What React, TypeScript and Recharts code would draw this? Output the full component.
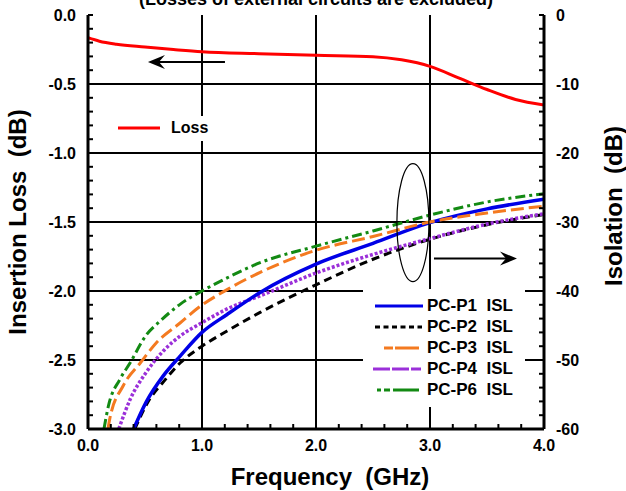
import React from 'react';
import { LineChart, Line, XAxis, YAxis, CartesianGrid, ReferenceDot, Label } from 'recharts';

const FONT = '"Liberation Sans", Arial, sans-serif';

// insertion loss, left axis (dB)
const lossFreq = [0, 0.1, 0.25, 0.5, 0.75, 1.0, 1.5, 2.0, 2.5, 2.75, 3.0, 3.25, 3.5, 3.75, 4.0];
const lossVal = [-0.165, -0.19, -0.212, -0.232, -0.25, -0.266, -0.28, -0.292, -0.302, -0.325, -0.372, -0.455, -0.54, -0.612, -0.652];

// isolation, right axis (dB)
const p1Freq = [0.4, 0.51, 0.66, 0.81, 1.0, 1.22, 1.51, 2.0, 2.5, 3.0, 3.5, 4.0];
const p1Val = [-60, -56.1, -52.3, -49.4, -46.0, -43.4, -40.2, -36.1, -33.1, -30.1, -28.1, -26.7];
const p2Freq = [0.41, 0.54, 0.66, 0.81, 1.0, 1.22, 1.51, 2.0, 2.5, 3.0, 3.5, 4.0];
const p2Val = [-60, -55.7, -53.2, -50.4, -48.0, -45.8, -43.1, -39.1, -35.4, -32.5, -30.4, -28.9];
const p3Freq = [0.175, 0.19, 0.31, 0.46, 0.6, 0.81, 0.97, 1.22, 1.51, 2.0, 2.5, 3.0, 3.5, 4.0];
const p3Val = [-60, -58.6, -53.7, -50.4, -47.5, -44.6, -42.4, -39.8, -37.3, -34.1, -32.1, -30.0, -28.7, -27.7];
const p4Freq = [0.27, 0.37, 0.51, 0.66, 0.81, 1.0, 1.22, 1.51, 2.0, 2.5, 3.0, 3.5, 4.0];
const p4Val = [-60, -55.7, -51.8, -48.7, -46.5, -44.6, -42.6, -40.7, -37.4, -34.7, -32.4, -30.3, -28.8];
const p6Freq = [0.14, 0.18, 0.28, 0.37, 0.51, 0.63, 0.81, 1.0, 1.22, 1.51, 2.0, 2.5, 3.0, 3.5, 4.0];
const p6Val = [-60, -56.6, -52.8, -50.4, -46.4, -44.4, -41.9, -40.0, -38.1, -35.9, -33.5, -31.3, -29.0, -27.1, -25.9];

const xMajor = [0, 1, 2, 3, 4];
const xTickLabels = ['0.0', '1.0', '2.0', '3.0', '4.0'];
const leftMajor = [0, -0.5, -1, -1.5, -2, -2.5, -3];
const leftTickLabels = ['0.0', '-0.5', '-1.0', '-1.5', '-2.0', '-2.5', '-3.0'];
const rightMajor = [0, -10, -20, -30, -40, -50, -60];
const rightTickLabels = ['0', '-10', '-20', '-30', '-40', '-50', '-60'];

// minor ticks
const xTicks = Array.from({ length: 21 }, (_, i) => +(i * 0.2).toFixed(1));
const leftTicks = Array.from({ length: 31 }, (_, i) => +(-i * 0.1).toFixed(1));
const rightTicks = Array.from({ length: 31 }, (_, i) => -2 * i);

const pts = (f: number[], v: number[]) => f.map((x, i) => ({ f: x, v: v[i] }));

const isoSeries = [
  { name: 'PC-P1  ISL', data: pts(p1Freq, p1Val), color: '#0000e6', width: 3.5, dash: undefined, legendDash: undefined, lx: [12, 60] },
  { name: 'PC-P2  ISL', data: pts(p2Freq, p2Val), color: '#000000', width: 3, dash: '8 5', legendDash: '5 3.5', lx: [12, 59] },
  { name: 'PC-P3  ISL', data: pts(p3Freq, p3Val), color: '#f47a20', width: 3, dash: '13 5', legendDash: '9 2 24', lx: [21, 56] },
  { name: 'PC-P4  ISL', data: pts(p4Freq, p4Val), color: '#9b30d9', width: 3.5, dash: '3 2', legendDash: '17 2', lx: [10, 58] },
  { name: 'PC-P6  ISL', data: pts(p6Freq, p6Val), color: '#138a13', width: 3, dash: '10 4 3 4', legendDash: '4 3 6 3 26', lx: [14, 56] },
];
const drawOrder = [1, 3, 0, 2, 4];

const major = (arr: number[], v: number) => arr.findIndex((m) => Math.abs(m - v) < 1e-6);

const tickText = { fontFamily: FONT, fontSize: 16, fontWeight: 'bold', fill: '#000' } as const;

const BottomTick = (p: any) => {
  const i = major(xMajor, p.payload.value);
  return (
    <g>
      <line x1={p.x} x2={p.x} y1={p.y} y2={p.y - 5} stroke="#000" strokeWidth={2} />
      {i >= 0 && <text x={p.x} y={p.y + 22} textAnchor="middle" {...tickText}>{xTickLabels[i]}</text>}
    </g>
  );
};
const TopTick = (p: any) => <line x1={p.x} x2={p.x} y1={p.y} y2={p.y + 5} stroke="#000" strokeWidth={2} />;
const LeftTick = (p: any) => {
  const i = major(leftMajor, p.payload.value);
  return (
    <g>
      <line x1={p.x} x2={p.x + 5} y1={p.y} y2={p.y} stroke="#000" strokeWidth={2} />
      {i >= 0 && <text x={p.x - 12} y={p.y + 6} textAnchor="end" {...tickText}>{leftTickLabels[i]}</text>}
    </g>
  );
};
const RightTick = (p: any) => {
  const i = major(rightMajor, p.payload.value);
  return (
    <g>
      <line x1={p.x} x2={p.x - 5} y1={p.y} y2={p.y} stroke="#000" strokeWidth={2} />
      {i >= 0 && <text x={p.x + 12} y={p.y + 6} textAnchor="start" {...tickText}>{rightTickLabels[i]}</text>}
    </g>
  );
};

const arrowLeft = (p: any) => (
  <g>
    <line x1={p.cx + 8} x2={p.cx + 77} y1={p.cy} y2={p.cy} stroke="#000" strokeWidth={2} />
    <polygon points={`${p.cx},${p.cy} ${p.cx + 17},${p.cy - 7} ${p.cx + 11},${p.cy} ${p.cx + 17},${p.cy + 7}`} fill="#000" />
  </g>
);
const arrowRight = (p: any) => (
  <g>
    <line x1={p.cx - 83} x2={p.cx - 8} y1={p.cy} y2={p.cy} stroke="#000" strokeWidth={2} />
    <polygon points={`${p.cx},${p.cy} ${p.cx - 17},${p.cy - 7} ${p.cx - 11},${p.cy} ${p.cx - 17},${p.cy + 7}`} fill="#000" />
  </g>
);
const ellipse = (p: any) => <ellipse cx={p.cx} cy={p.cy} rx={16} ry={59} fill="none" stroke="#000" strokeWidth={1.2} />;

const titleStyle = { fontFamily: FONT, fontSize: 24, fontWeight: 'bold', fill: '#000' } as const;

const App = () => {
  return (
    <div style={{ position: 'absolute', left: 0, top: 0, width: 626, height: 491, background: '#fff', fontFamily: FONT }}>
      <div style={{ position: 'absolute', left: 0, top: -10, width: 632, textAlign: 'center', fontSize: 18, fontWeight: 'bold', lineHeight: '18px' }}>
        (Losses of external circuits are excluded)
      </div>
      <LineChart width={626} height={491} margin={{ top: 15, right: 0, bottom: 0, left: 0 }}>
        <CartesianGrid xAxisId="bottom" yAxisId="left" stroke="#000" strokeWidth={2}
          horizontalValues={[-0.5, -1, -1.5, -2, -2.5]} verticalValues={[1, 2, 3]} />
        <XAxis xAxisId="bottom" dataKey="f" type="number" domain={[0, 4]} ticks={xTicks} height={62}
          allowDataOverflow interval={0} tickSize={0} tickMargin={0} tick={BottomTick}
          axisLine={{ stroke: '#000', strokeWidth: 3 }}>
          <Label value={'Frequency\u00a0 (GHz)'} position="insideBottom" offset={6} dx={14} style={titleStyle} />
        </XAxis>
        <XAxis xAxisId="top" orientation="top" type="number" domain={[0, 4]} ticks={xTicks} height={0}
          allowDataOverflow interval={0} tickSize={0} tickMargin={0} tick={TopTick}
          axisLine={{ stroke: '#000', strokeWidth: 3 }} />
        <YAxis yAxisId="left" type="number" domain={[-3, 0]} ticks={leftTicks} width={88}
          allowDataOverflow interval={0} tickSize={0} tickMargin={0} tick={LeftTick}
          axisLine={{ stroke: '#000', strokeWidth: 3 }}>
          <Label value={'Insertion Loss\u00a0 (dB)'} angle={-90} position="insideLeft" offset={17}
            style={{ ...titleStyle, textAnchor: 'middle' }} />
        </YAxis>
        <YAxis yAxisId="right" orientation="right" type="number" domain={[-60, 0]} ticks={rightTicks} width={82}
          allowDataOverflow interval={0} tickSize={0} tickMargin={0} tick={RightTick}
          axisLine={{ stroke: '#000', strokeWidth: 3 }}>
          <Label value={'Isolation\u00a0 (dB)'} angle={-90} position="insideRight" offset={13} dy={-16}
            style={{ ...titleStyle, textAnchor: 'middle' }} />
        </YAxis>
        <Line xAxisId="bottom" yAxisId="left" data={pts(lossFreq, lossVal)} dataKey="v" type="monotone"
          stroke="#ff0000" strokeWidth={3} dot={false} isAnimationActive={false} />
        {drawOrder.map((k) => {
          const s = isoSeries[k];
          return (
            <Line key={s.name} xAxisId="bottom" yAxisId="right" data={s.data} dataKey="v" name={s.name}
              type="monotone" stroke={s.color} strokeWidth={s.width} strokeDasharray={s.dash}
              dot={false} isAnimationActive={false} />
          );
        })}
        <ReferenceDot xAxisId="bottom" yAxisId="left" x={2.85} y={-1.505} shape={ellipse} />
        <ReferenceDot xAxisId="bottom" yAxisId="left" x={0.526} y={-0.34} shape={arrowLeft} />
        <ReferenceDot xAxisId="bottom" yAxisId="right" x={3.763} y={-35.3} shape={arrowRight} />
      </LineChart>

      <div style={{ position: 'absolute', left: 112, top: 116, width: 100, height: 25, background: '#fff' }}>
        <svg width={56} height={25} style={{ position: 'absolute', left: 0, top: 0 }}>
          <line x1={6} x2={48} y1={12} y2={12} stroke="#ff0000" strokeWidth={3} />
        </svg>
        <span style={{ position: 'absolute', left: 59, top: 2, fontSize: 16, fontWeight: 'bold', lineHeight: '20px' }}>Loss</span>
      </div>

      <div style={{ position: 'absolute', left: 363, top: 289, width: 162, height: 118, background: '#fff', paddingTop: 6, boxSizing: 'border-box' }}>
        {isoSeries.map((s) => (
          <div key={s.name} style={{ display: 'flex', alignItems: 'center', height: 21 }}>
            <svg width={62} height={10}>
              <line x1={s.lx[0]} x2={s.lx[1]} y1={5} y2={5} stroke={s.color} strokeWidth={3} strokeDasharray={s.legendDash} />
            </svg>
            <span style={{ marginLeft: 2, fontSize: 17, fontWeight: 'bold', whiteSpace: 'pre', lineHeight: '21px' }}>{s.name}</span>
          </div>
        ))}
      </div>
    </div>
  );
};

export default App;
